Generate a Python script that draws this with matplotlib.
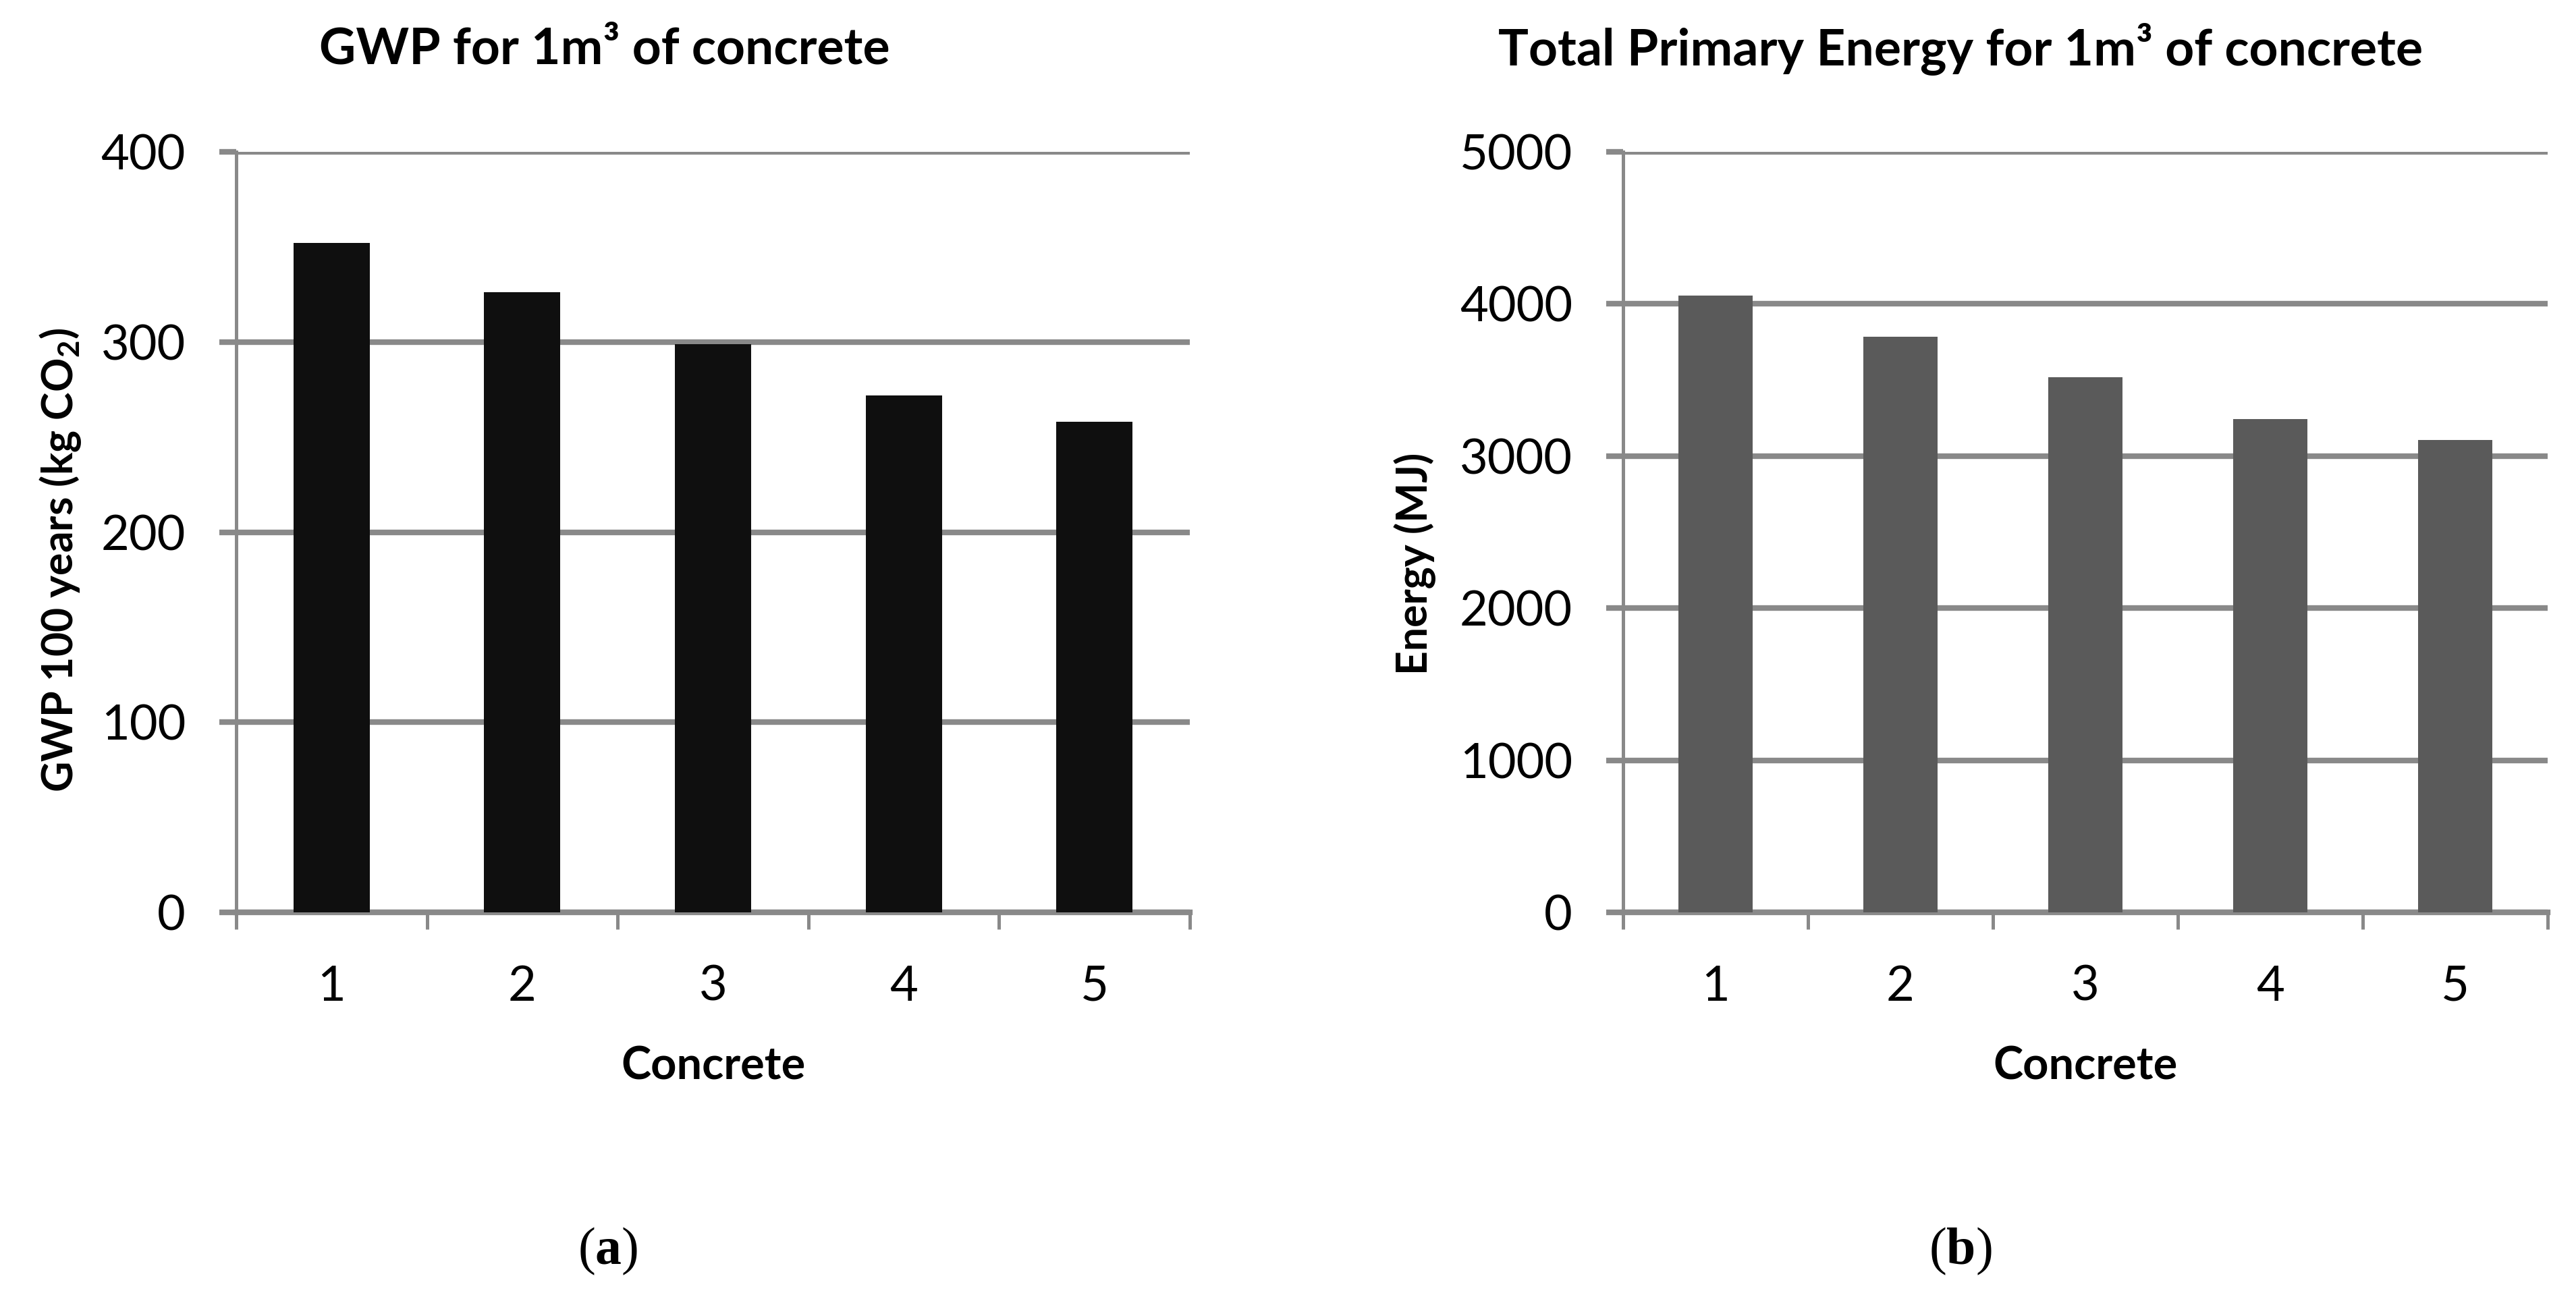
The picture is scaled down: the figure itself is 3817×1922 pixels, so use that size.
import matplotlib
matplotlib.use("Agg")
import matplotlib.pyplot as plt
import numpy as np

concretes = ["1", "2", "3", "4", "5"]
gwp = [352, 326, 299, 272, 258]
energy = [4055, 3785, 3520, 3245, 3105]

plt.rcParams["font.family"] = "Lato"
plt.rcParams["mathtext.fontset"] = "custom"
plt.rcParams["mathtext.rm"] = "Lato"
plt.rcParams["mathtext.bf"] = "Lato:bold"
plt.rcParams["mathtext.sf"] = "Liberation Serif:bold"

grey = "#898989"
W, H, dpi = 3817, 1922, 200
fig = plt.figure(figsize=(W / dpi, H / dpi), dpi=dpi)


def panel(rect, values, color, ymax, step):
    ax = fig.add_axes(rect)
    x = np.arange(1, len(values) + 1)
    ax.bar(x, values, width=0.4, color=color, zorder=3)
    ax.set_xlim(0.5, len(values) + 0.5)
    ax.set_ylim(0, ymax)
    ax.set_yticks(np.arange(0, ymax + 1, step))
    ax.set_xticks(x)
    ax.set_xticklabels(concretes)
    ax.set_xticks(np.arange(0.5, len(values) + 1, 1), minor=True)
    ax.yaxis.grid(True, color=grey, linewidth=3, zorder=1)
    for s in ["top", "right"]:
        ax.spines[s].set_visible(False)
    ax.spines["left"].set_color(grey)
    ax.spines["left"].set_linewidth(1.8)
    ax.spines["bottom"].set_color(grey)
    ax.spines["bottom"].set_linewidth(3)
    ax.tick_params(axis="x", which="major", length=0, pad=28, labelsize=26)
    ax.tick_params(axis="x", which="minor", length=9, width=1.8, color=grey)
    ax.tick_params(axis="y", length=9, width=3, color=grey, pad=18, labelsize=26)
    return ax


ax1 = panel([350 / W, 1 - 1352 / H, (1763 - 350) / W, (1352 - 225) / H],
            gwp, "#0f0f0f", 400, 100)
ax2 = panel([2405 / W, 1 - 1352 / H, (3775 - 2405) / W, (1352 - 225) / H],
            energy, "#5a5a5a", 5000, 1000)

fig.text(0.2348, 0.962, "GWP for 1m³ of concrete", ha="center", va="center",
         fontsize=27, fontweight="bold")
fig.text(0.761, 0.962, "Total Primary Energy for 1m³ of concrete", ha="center",
         va="center", fontsize=27, fontweight="bold")

fig.text(90 / W, 1 - 830 / H, r"GWP 100 years (kg $\mathbf{CO}_{\mathbf{2}}$)",
         rotation=90, ha="center", va="center", fontsize=22.5, fontweight="bold")
fig.text(2097 / W, 1 - 835 / H, "Energy (MJ)", rotation=90, ha="center",
         va="center", fontsize=22.5, fontweight="bold")

fig.text(1057 / W, 1 - 1580 / H, "Concrete", ha="center", va="center",
         fontsize=24, fontweight="bold")
fig.text(3090 / W, 1 - 1580 / H, "Concrete", ha="center", va="center",
         fontsize=24, fontweight="bold")

fig.text(0.236, 1 - 1854 / H, r"($\mathsf{a}$)", ha="center", va="center",
         fontsize=28, family="Liberation Serif")
fig.text(0.761, 1 - 1854 / H, r"($\mathsf{b}$)", ha="center", va="center",
         fontsize=28, family="Liberation Serif")

fig.savefig("out.png", dpi=dpi, facecolor="white")
